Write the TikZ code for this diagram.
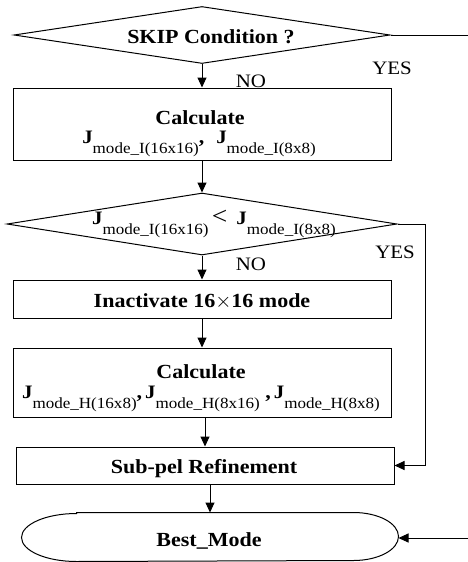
\documentclass[tikz,border=0pt]{standalone}
\usepackage{fontspec}
\setmainfont{Liberation Serif}[FakeStretch=1.1]
\usetikzlibrary{shapes.geometric,arrows.meta}
\newcommand\Jm[1]{{\fontsize{19}{19}\selectfont\bfseries J}\raisebox{-10pt}{\normalfont\fontsize{15.5}{15.5}\selectfont #1}}
\begin{document}
\begin{tikzpicture}[x=1pt,y=-1pt,line width=1pt,
  box/.style={draw,rectangle,inner sep=0pt,minimum width=378pt},
  dia/.style={draw,diamond,inner sep=0pt},
  lbl/.style={font=\fontsize{20}{24}\selectfont\bfseries,inner sep=0pt,anchor=base},
  yn/.style={font=\fontsize{19}{22}\selectfont,inner sep=0pt,anchor=base},
  arr/.style={-{Triangle[length=10pt,width=9pt]}}]
\useasboundingbox (0,0) rectangle (467,562);
% shapes
\node[dia,minimum width=376pt,minimum height=57pt] (d1) at (202,35) {};
\node[lbl] (t1) at (211,43) {SKIP Condition ?};
\node[yn] (no1) at (251,87) {NO};
\node[yn] (yes1) at (392,74) {YES};
\node[box,minimum height=72pt] (b1) at (202,124) {};
\node[lbl] (b1a) at (200,124) {Calculate};
\node[lbl] (b1b) at (199,143) {\Jm{mode\_I(16x16)},\hspace{12pt}\Jm{mode\_I(8x8)}};
\node[dia,minimum width=390pt,minimum height=62pt] (d2) at (202,224) {};
\node[lbl] (t2) at (214,224) {\Jm{mode\_I(16x16)}\,{\normalfont\fontsize{25}{25}\selectfont <}\hspace{9pt}\Jm{mode\_I(8x8)}};
\node[yn] (no2) at (251,270) {NO};
\node[yn] (yes2) at (395,258) {YES};
\node[box,minimum height=38pt] (b2) at (202,299) {};
\node[lbl] (b2a) at (202,307) {Inactivate 16{\normalfont$\times$}16 mode};
\node[box,minimum height=69pt] (b3) at (202,382.5) {};
\node[lbl] (b3a) at (201,378) {Calculate};
\node[lbl] (b3b) at (201,398) {\Jm{mode\_H(16x8)},\hspace{3pt}\Jm{mode\_H(8x16)} ,\hspace{3pt}\Jm{mode\_H(8x8)}};
\node[box,minimum height=37pt] (sub) at (205,465.5) {};
\node[lbl] (suba) at (204,473) {Sub-pel Refinement};
\node[inner sep=0pt,minimum width=376pt,minimum height=48pt] (best) at (210,537) {};
\draw ([xshift=55pt]best.north west) -- ([xshift=-45pt]best.north east)
  arc[start angle=90,end angle=-90,x radius=45pt,y radius=24pt]
  -- ([xshift=55pt]best.south west)
  arc[start angle=270,end angle=90,x radius=55pt,y radius=24pt] -- cycle;
\node[lbl] (besta) at (209,546) {Best\_Mode};
% connectors
\draw[arr] (d1.south) -- (b1.north);
\draw[arr] (b1.south) -- (d2.north);
\draw[arr] (d2.south) -- (b2.north);
\draw[arr] (b2.south) -- (b3.north);
\draw[arr] (b3.south -| sub.north) -- (sub.north);
\draw[arr] (sub.south -| best.north) -- (best.north);
\coordinate (r1) at (470,35);
\coordinate (r2) at (470,538);
\draw[arr] (d1.east) -- (r1) -- (r2) -- (best.east |- r2);
\coordinate (q1) at (425,224);
\draw[arr] (d2.east) -- (q1) |- (sub.east);
\end{tikzpicture}
\end{document}
